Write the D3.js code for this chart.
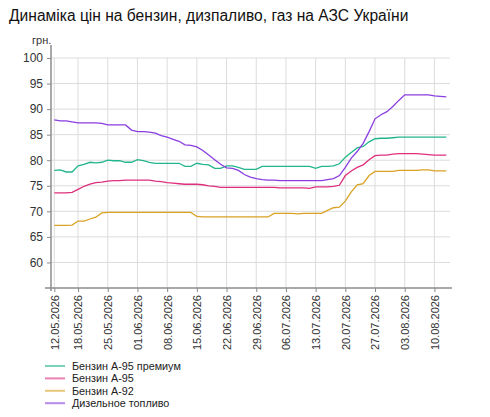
<!DOCTYPE html>
<html>
<head>
<meta charset="utf-8">
<script src="https://cdn.jsdelivr.net/npm/d3@7"></script>
<style>
  body { margin: 0; background: #fff; }
  svg text { font-family: "Liberation Sans", Arial, sans-serif; }
</style>
</head>
<body>
<div id="chart"></div>
<script>
// business days 12.05.2026 - 12.08.2026
const dates = ("12.05 13.05 14.05 15.05 18.05 19.05 20.05 21.05 22.05 25.05 26.05 27.05 28.05 29.05 " +
  "01.06 02.06 03.06 04.06 05.06 08.06 09.06 10.06 11.06 12.06 15.06 16.06 17.06 18.06 19.06 " +
  "22.06 23.06 24.06 25.06 26.06 29.06 30.06 01.07 02.07 03.07 06.07 07.07 08.07 09.07 10.07 " +
  "13.07 14.07 15.07 16.07 17.07 20.07 21.07 22.07 23.07 24.07 27.07 28.07 29.07 30.07 31.07 " +
  "03.08 04.08 05.08 06.08 07.08 10.08 11.08 12.08").split(" ").map(d => d + ".2026");

const tickDates = ["12.05.2026", "18.05.2026", "25.05.2026", "01.06.2026", "08.06.2026", "15.06.2026",
  "22.06.2026", "29.06.2026", "06.07.2026", "13.07.2026", "20.07.2026", "27.07.2026", "03.08.2026", "10.08.2026"];

const yTicks = [60, 65, 70, 75, 80, 85, 90, 95, 100];

const premium95 = [78.0,78.1,77.7,77.7,78.9, 79.2,79.6,79.5,79.6,80.0, 79.9,79.9,79.6,79.6,80.1,
  79.9,79.6,79.4,79.4,79.4, 79.4,79.4,78.8,78.8,79.4, 79.2,79.1,78.4,78.4,78.9,
  78.9,78.6,78.2,78.2,78.2, 78.8,78.8,78.8,78.8,78.8, 78.8,78.8,78.8,78.8,78.4,
  78.8,78.8,78.9,79.3,80.6, 81.5,82.4,82.7,83.6,84.2, 84.3,84.3,84.4,84.5,84.5,
  84.5,84.5,84.5,84.5,84.5, 84.5,84.5];

const a95 = [73.6,73.6,73.6,73.7,74.3, 74.9,75.3,75.6,75.7,75.9, 76.0,76.0,76.1,76.1,76.1,
  76.1,76.1,75.9,75.8,75.6, 75.5,75.4,75.3,75.3,75.3, 75.2,75.0,74.9,74.7,74.7,
  74.7,74.7,74.7,74.7,74.7, 74.7,74.7,74.7,74.6,74.6, 74.6,74.6,74.6,74.5,74.8,
  74.8,74.8,74.9,75.1,77.0, 77.9,78.6,79.1,80.1,80.9, 81.0,81.0,81.2,81.3,81.3,
  81.3,81.3,81.2,81.1,81.0, 81.0,81.0];

const a92 = [67.25,67.25,67.25,67.3,68.1, 68.1,68.5,68.85,69.7,69.8, 69.8,69.8,69.8,69.8,69.8,
  69.8,69.8,69.8,69.8,69.8, 69.8,69.8,69.8,69.8,69.0, 68.9,68.9,68.9,68.9,68.9,
  68.9,68.9,68.9,68.9,68.9, 68.9,68.9,69.6,69.6,69.6, 69.6,69.5,69.6,69.6,69.6,
  69.6,70.2,70.7,70.8,72.0, 73.8,75.2,75.4,77.0,77.8, 77.8,77.8,77.8,78.0,78.0,
  78.0,78.0,78.1,78.1,77.9, 77.9,77.9];

const diesel = [87.9,87.7,87.7,87.5,87.3, 87.3,87.3,87.3,87.2,86.9, 86.9,86.9,86.9,85.9,85.6,
  85.6,85.5,85.3,84.8,84.5, 84.1,83.7,83.0,82.9,82.6, 81.9,81.0,80.1,79.2,78.5,
  78.4,78.0,77.2,76.7,76.4, 76.2,76.1,76.1,76.0,76.0, 76.0,76.0,76.0,76.0,76.0,
  76.0,76.2,76.4,77.0,78.6, 80.4,81.7,83.3,85.6,88.1, 88.9,89.5,90.5,91.7,92.8,
  92.8,92.8,92.8,92.8,92.6, 92.5,92.4];

const seriesNames = ["Бензин А-95 премиум", "Бензин А-95", "Бензин А-92", "Дизельное топливо"];
const seriesValues = [premium95, a95, a92, diesel];
const seriesColors = ["#22b58c", "#de2f7d", "#d9a223", "#8a3de0"];

const width = 490, height = 417;
const svg = d3.select("#chart").append("svg")
    .attr("width", width)
    .attr("height", height);

// title
svg.append("text")
    .attr("x", 9)
    .attr("y", 21)
    .style("font-size", "15.6px")
    .style("fill", "#111")
    .text("Динаміка цін на бензин, дизпаливо, газ на АЗС України");

const x = d3.scalePoint()
    .domain(dates)
    .range([54.3, 446.3]);

const y = d3.scaleLinear()
    .domain([55, 100])
    .range([288, 58]);

// grid
svg.append("g")
    .selectAll("line")
    .data(yTicks)
    .enter()
    .append("line")
    .attr("x1", 51).attr("x2", 450)
    .attr("y1", d => y(d)).attr("y2", d => y(d))
    .style("stroke", "#dcdcdc");

svg.append("g")
    .selectAll("line")
    .data(tickDates)
    .enter()
    .append("line")
    .attr("x1", d => x(d)).attr("x2", d => x(d))
    .attr("y1", y(100)).attr("y2", 288)
    .style("stroke", "#dcdcdc");

// y axis
const yAxis = svg.append("g")
    .attr("transform", "translate(51,0)")
    .call(d3.axisLeft(y).tickValues(yTicks).tickSize(4).tickPadding(4));
yAxis.select(".domain").remove();
yAxis.selectAll("line").style("stroke", "#888");
yAxis.selectAll("text").style("font-size", "12px").style("fill", "#333")
    .style("font-family", "'Liberation Sans', Arial, sans-serif");

svg.append("line")
    .attr("x1", 51).attr("x2", 51)
    .attr("y1", 45).attr("y2", 291)
    .style("stroke", "#8c8c8c")
    .style("stroke-width", 1.5);

svg.append("text")
    .attr("x", 32)
    .attr("y", 44)
    .style("font-size", "11px")
    .style("fill", "#333")
    .text("грн.");

// x axis
const xAxis = svg.append("g")
    .attr("transform", "translate(0,288)")
    .call(d3.axisBottom(x).tickValues(tickDates).tickSize(4).tickSizeOuter(0));
xAxis.select(".domain").remove();
xAxis.selectAll("line").style("stroke", "#888");
xAxis.selectAll("text")
    .attr("transform", "rotate(-90)")
    .attr("x", -7)
    .attr("y", 0)
    .attr("dy", "0.35em")
    .attr("text-anchor", "end")
    .style("font-size", "11px")
    .style("fill", "#333")
    .style("font-family", "'Liberation Sans', Arial, sans-serif");

svg.append("line")
    .attr("x1", 45).attr("x2", 452)
    .attr("y1", 288).attr("y2", 288)
    .style("stroke", "#8c8c8c")
    .style("stroke-width", 1.5);

// lines
const line = d3.line()
    .x((d, i) => x(dates[i]))
    .y(d => y(d));

seriesValues.forEach((vals, k) => {
    svg.append("path")
        .datum(vals)
        .attr("d", line)
        .style("fill", "none")
        .style("stroke", seriesColors[k])
        .style("stroke-width", 1.3);
});

// legend
const legend = svg.append("g")
    .selectAll("g")
    .data(seriesNames)
    .enter()
    .append("g")
    .attr("transform", (d, i) => `translate(45, ${366 + i * 12.4})`);

legend.append("line")
    .attr("x1", 0).attr("x2", 20)
    .style("stroke", (d, i) => seriesColors[i])
    .style("stroke-width", 2)
    .style("opacity", 0.6);

legend.append("text")
    .attr("x", 27)
    .attr("dy", "0.35em")
    .style("font-size", "10.8px")
    .style("fill", "#222")
    .text(d => d);
</script>
</body>
</html>
